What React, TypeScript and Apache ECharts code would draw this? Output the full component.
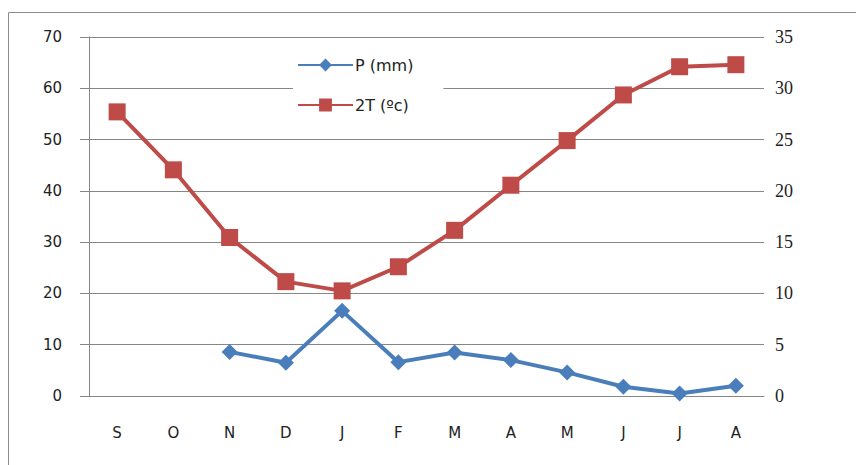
import React, { useEffect, useRef } from "react";
import * as echarts from "echarts";

const categories = ["S", "O", "N", "D", "J", "F", "M", "A", "M", "J", "J", "A"];
const precipitation: (number | null)[] = [null, null, 8.6, 6.5, 16.6, 6.6, 8.5, 7.0, 4.6, 1.8, 0.5, 2.0];
const twiceTemp = [55.4, 44.1, 30.9, 22.3, 20.5, 25.2, 32.3, 41.1, 49.8, 58.7, 64.2, 64.6];
const seriesNames = ["P (mm)", "2T (ºc)"];

export default function App() {
  const ref = useRef<HTMLDivElement>(null);
  useEffect(() => {
    if (!ref.current) return;
    const chart = echarts.init(ref.current, null, { renderer: "svg" });
    const sans = "DejaVu Sans";
    chart.setOption({
      animation: false,
      backgroundColor: "#fff",
      graphic: [
        {
          type: "rect",
          z: -10,
          shape: { x: 8.5, y: 12.5, width: 1000, height: 1000 },
          style: { fill: "none", stroke: "#8c8c8c", lineWidth: 1 },
        },
      ],
      grid: { left: 89, right: 92, top: 37, bottom: 69 },
      legend: {
        orient: "vertical",
        left: 293,
        top: 45,
        padding: [12, 30, 12, 4],
        itemGap: 24,
        itemWidth: 55,
        itemHeight: 16,
        backgroundColor: "#fff",
        textStyle: { fontFamily: sans, fontSize: 16, color: "#222", padding: [0, 0, 0, -3] },
        data: seriesNames,
      },
      xAxis: {
        type: "category",
        data: categories,
        boundaryGap: true,
        axisLine: { lineStyle: { color: "#868686", width: 1 } },
        axisTick: { length: 7, lineStyle: { color: "#868686" } },
        axisLabel: { margin: 29, fontFamily: sans, fontSize: 15, color: "#222" },
      },
      yAxis: [
        {
          type: "value",
          min: 0,
          max: 70,
          interval: 10,
          axisLine: { show: true, lineStyle: { color: "#868686" } },
          axisTick: { show: true, length: 9, lineStyle: { color: "#868686" } },
          splitLine: { lineStyle: { color: "#868686", width: 1 } },
          axisLabel: { margin: 27, fontFamily: sans, fontSize: 15, color: "#222" },
        },
        {
          type: "value",
          min: 0,
          max: 35,
          interval: 5,
          position: "right",
          axisLine: { show: false },
          axisTick: { show: false },
          splitLine: { show: false },
          axisLabel: { margin: 11, fontFamily: "Liberation Serif", fontSize: 18, color: "#222" },
        },
      ],
      series: [
        {
          name: seriesNames[0],
          type: "line",
          yAxisIndex: 0,
          data: precipitation,
          symbol: "diamond",
          symbolSize: 16,
          lineStyle: { color: "#4a7ebb", width: 4 },
          itemStyle: { color: "#4a7ebb" },
          connectNulls: false,
        },
        {
          name: seriesNames[1],
          type: "line",
          yAxisIndex: 0,
          data: twiceTemp,
          symbol: "rect",
          symbolSize: 17,
          lineStyle: { color: "#be4b48", width: 4 },
          itemStyle: { color: "#be4b48" },
        },
      ],
    });
    return () => chart.dispose();
  }, []);
  return (
    <div
      ref={ref}
      style={{ position: "fixed", left: 0, top: 0, width: 856, height: 465 }}
    />
  );
}
